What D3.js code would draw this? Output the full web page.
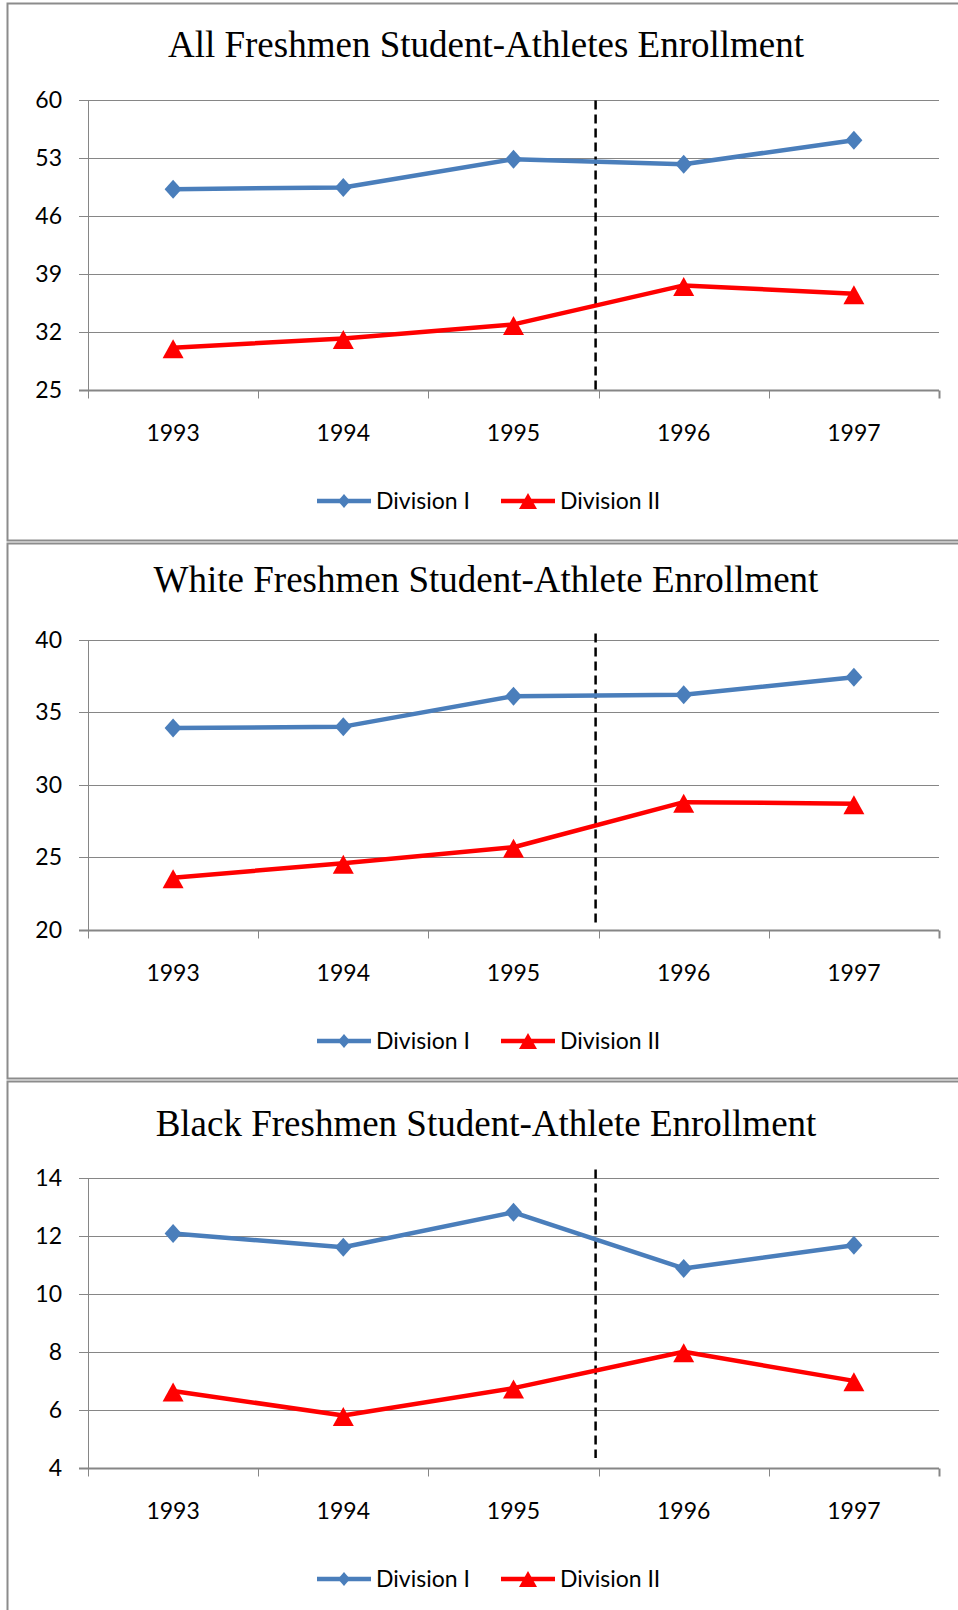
<!DOCTYPE html>
<html>
<head>
<meta charset="utf-8">
<script src="https://cdn.jsdelivr.net/npm/d3@7"></script>
<style>
  html, body { margin: 0; padding: 0; background: #fff; }
  svg { display: block; }
</style>
</head>
<body>
<svg id="chart" width="958" height="1610"></svg>
<script>
// categories and values
const years = ['1993', '1994', '1995', '1996', '1997'];
const seriesNames = ['Division I', 'Division II'];

const titles = [
  'All Freshmen Student-Athletes Enrollment',
  'White Freshmen Student-Athlete Enrollment',
  'Black Freshmen Student-Athlete Enrollment'
];

const allDiv1 = [49.2, 49.4, 52.8, 52.2, 55.1];
const allDiv2 = [30.1, 31.2, 32.9, 37.6, 36.6];
const whiteDiv1 = [33.9, 34.0, 36.1, 36.2, 37.4];
const whiteDiv2 = [23.6, 24.6, 25.7, 28.8, 28.7];
const blackDiv1 = [12.07, 11.6, 12.8, 10.87, 11.67];
const blackDiv2 = [6.65, 5.81, 6.75, 8.0, 7.0];

const allTicks = [25, 32, 39, 46, 53, 60];
const whiteTicks = [20, 25, 30, 35, 40];
const blackTicks = [4, 6, 8, 10, 12, 14];

const panels = [
  { title: titles[0], d1: allDiv1, d2: allDiv2, ticks: allTicks, top: 3, bottom: 540, titleDy: 54, dash: [1, 0] },
  { title: titles[1], d1: whiteDiv1, d2: whiteDiv2, ticks: whiteTicks, top: 543, bottom: 1078, titleDy: 49, dash: [-6, -6] },
  { title: titles[2], d1: blackDiv1, d2: blackDiv2, ticks: blackTicks, top: 1081, bottom: 1625, titleDy: 55, dash: [-8, -10] }
];

const blue = '#4a7ebb';
const red = '#ff0000';
const gridColor = '#868686';
const sansFont = 'Lato, "Open Sans", sans-serif';

const svg = d3.select('#chart');

// marker shapes
const diamond = (w, h) => `M0,${-h}L${w},0L0,${h}L${-w},0Z`;
const triangle = (w, h) => `M0,${-h}L${w},${h}L${-w},${h}Z`;

const x = d3.scaleBand().domain(years).range([88, 939]);

panels.forEach((p) => {
  const g = svg.append('g');

  // panel frame
  g.append('rect')
    .attr('x', 7.5)
    .attr('y', p.top + 0.5)
    .attr('width', 990)
    .attr('height', p.bottom - p.top)
    .attr('fill', 'none')
    .attr('stroke', '#8c8c8c')
    .attr('stroke-width', 2);

  // title
  g.append('text')
    .attr('x', 486)
    .attr('y', p.top + p.titleDy)
    .attr('text-anchor', 'middle')
    .attr('font-family', '"Liberation Serif", "Times New Roman", serif')
    .attr('font-size', '37px')
    .attr('fill', '#000')
    .text(p.title);

  const y = d3.scaleLinear()
    .domain(d3.extent(p.ticks))
    .range([p.top + 387, p.top + 96.5]);

  // horizontal gridlines + y tick marks
  g.append('g')
    .selectAll('line')
    .data(p.ticks)
    .enter().append('line')
    .attr('x1', 79)
    .attr('x2', 939)
    .attr('y1', (d) => Math.round(y(d)) + 0.5)
    .attr('y2', (d) => Math.round(y(d)) + 0.5)
    .attr('stroke', gridColor)
    .attr('stroke-width', 1);

  // y tick labels
  g.append('g')
    .selectAll('text')
    .data(p.ticks)
    .enter().append('text')
    .attr('x', 62)
    .attr('y', (d) => y(d) + 8)
    .attr('text-anchor', 'end')
    .attr('font-family', sansFont)
    .attr('font-size', '23px')
    .attr('fill', '#000')
    .text((d) => d);

  const yBottom = Math.round(y(p.ticks[0])) + 0.5;

  // vertical axis line
  g.append('line')
    .attr('x1', 88.5).attr('x2', 88.5)
    .attr('y1', Math.round(y(d3.max(p.ticks))))
    .attr('y2', yBottom + 8)
    .attr('stroke', gridColor)
    .attr('stroke-width', 1);

  // x axis line slightly heavier
  g.append('line')
    .attr('x1', 79).attr('x2', 939)
    .attr('y1', yBottom).attr('y2', yBottom)
    .attr('stroke', gridColor)
    .attr('stroke-width', 2);

  // category boundary ticks
  const bounds = years.map((d) => x(d)).concat([x.range()[1]]);
  g.append('g')
    .selectAll('line')
    .data(bounds.slice(1))
    .enter().append('line')
    .attr('x1', (d) => Math.round(d) + 0.5)
    .attr('x2', (d) => Math.round(d) + 0.5)
    .attr('y1', yBottom)
    .attr('y2', yBottom + 8)
    .attr('stroke', gridColor)
    .attr('stroke-width', (d, i) => (i === bounds.length - 2 ? 2 : 1));

  // x labels
  g.append('g')
    .selectAll('text')
    .data(years)
    .enter().append('text')
    .attr('x', (d) => x(d) + x.bandwidth() / 2)
    .attr('y', p.top + 438)
    .attr('text-anchor', 'middle')
    .attr('font-family', sansFont)
    .attr('font-size', '23px')
    .attr('fill', '#000')
    .text((d) => d);

  // dashed divider between 1995 and 1996
  const dashX = x('1996') - 3;
  g.append('line')
    .attr('x1', dashX).attr('x2', dashX)
    .attr('y1', y(d3.max(p.ticks)) + p.dash[0])
    .attr('y2', y(p.ticks[0]) + p.dash[1])
    .attr('stroke', '#000')
    .attr('stroke-width', 2.5)
    .attr('stroke-dasharray', '9,5');

  const line = d3.line()
    .x((d, i) => x(years[i]) + x.bandwidth() / 2)
    .y((d) => y(d));

  // Division II
  g.append('path')
    .datum(p.d2)
    .attr('d', line)
    .attr('fill', 'none')
    .attr('stroke', red)
    .attr('stroke-width', 4.5)
    .attr('stroke-linejoin', 'round');

  g.append('g')
    .selectAll('path')
    .data(p.d2)
    .enter().append('path')
    .attr('d', triangle(10.5, 9.5))
    .attr('transform', (d, i) => `translate(${x(years[i]) + x.bandwidth() / 2},${y(d) + 1})`)
    .attr('fill', red);

  // Division I
  g.append('path')
    .datum(p.d1)
    .attr('d', line)
    .attr('fill', 'none')
    .attr('stroke', blue)
    .attr('stroke-width', 4.5)
    .attr('stroke-linejoin', 'round');

  g.append('g')
    .selectAll('path')
    .data(p.d1)
    .enter().append('path')
    .attr('d', diamond(8.5, 9.5))
    .attr('transform', (d, i) => `translate(${x(years[i]) + x.bandwidth() / 2},${y(d)})`)
    .attr('fill', blue);

  // legend
  const ly = p.top + 498;
  const legendItems = [
    { name: seriesNames[0], color: blue, x0: 317, shape: diamond(6, 7) },
    { name: seriesNames[1], color: red, x0: 501, shape: triangle(9, 8) }
  ];
  legendItems.forEach((it) => {
    g.append('line')
      .attr('x1', it.x0).attr('x2', it.x0 + 54)
      .attr('y1', ly).attr('y2', ly)
      .attr('stroke', it.color)
      .attr('stroke-width', 4.5);
    g.append('path')
      .attr('d', it.shape)
      .attr('transform', `translate(${it.x0 + 27},${ly})`)
      .attr('fill', it.color);
    g.append('text')
      .attr('x', it.x0 + 59)
      .attr('y', ly + 8)
      .attr('font-family', sansFont)
      .attr('font-size', '23px')
      .attr('fill', '#000')
      .text(it.name);
  });
});
</script>
</body>
</html>
